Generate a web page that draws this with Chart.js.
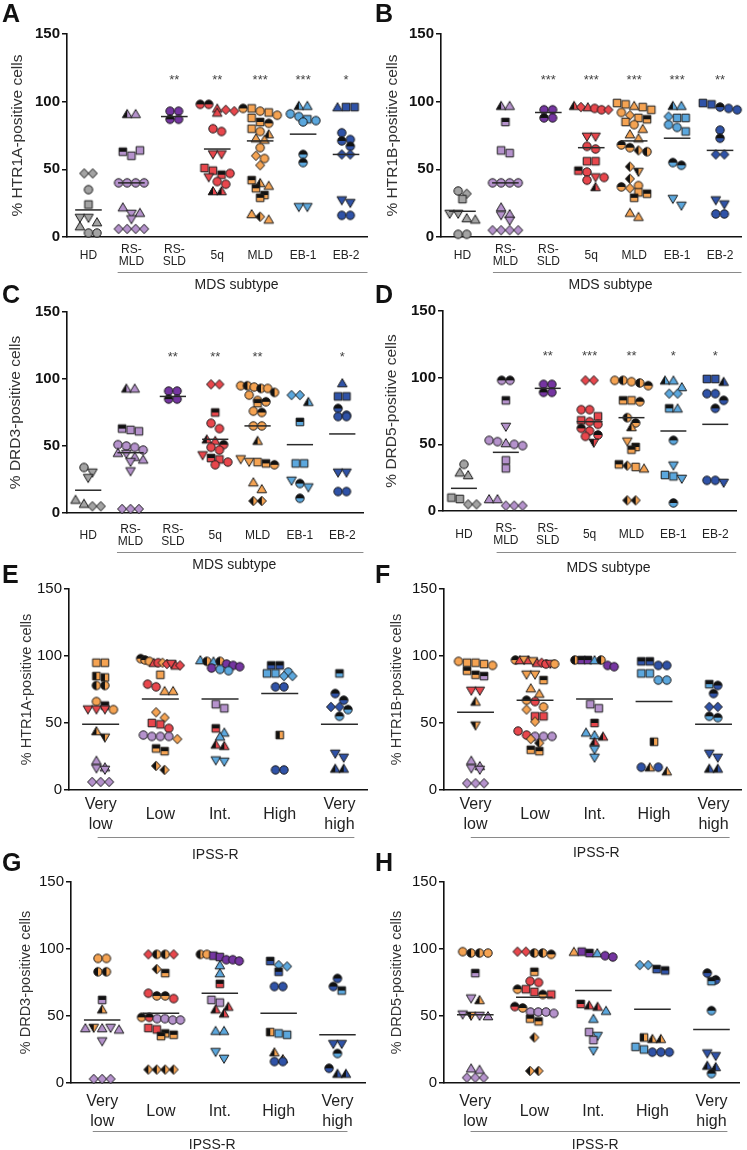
<!DOCTYPE html>
<html><head><meta charset="utf-8">
<script src="https://cdn.jsdelivr.net/npm/chart.js@4.4.1/dist/chart.umd.min.js"></script>
<style>
html,body{margin:0;padding:0;background:#fff;}
#wrap{position:relative;width:747px;height:1150px;overflow:hidden;background:#fff;}
#wrap canvas{position:absolute;}
.lbl{position:absolute;font:bold 25px "Liberation Sans",Arial,sans-serif;color:#111;line-height:1;}
</style></head><body><div id="wrap"></div>
<script>
const FF = '"Liberation Sans", Arial, Helvetica, sans-serif';

// ---------- categories / ticks ----------
const mdsCategories = [["HD"],["RS-","MLD"],["RS-","SLD"],["5q"],["MLD"],["EB-1"],["EB-2"]];
const ipssCategories = [["Very","low"],["Low"],["Int."],["High"],["Very","high"]];
const yTickValues = [0, 50, 100, 150];
const mdsGroupColour = ["g","p","P","r","o","b","B"];

// ---------- Panel A : HTR1A by MDS subtype ----------
const A_values = [
 [47,47,35,24,14,14,11,8,3,3],
 [91,91,63,60,64,40,40,40,40,22,17,18,13,6,6,6,6],
 [93,93,87,87],
 [98,98,95,94,92,93,80,78,61,61,51,49,46,47,44,41,39,34,34],
 [95,95,93,92,90,88,85,84,80,78,76,73,72,66,60,58,53,42,40,38,36,31,29,17,15,13],
 [97,97,91,89,87,86,85,61,55,22,22],
 [96,96,96,77,72,71,67,61,61,27,25,16,16]];
const A_markers = [
 "d d c s v v t t c c",
 "tL t sT s s c c c c t v t v d d d d",
 "c c cT c",
 "cT cT t d t d c c v v s s sT c v c c tL tL",
 "cT s c s c s sT cT s c tL t t c d c d sT tL t sT sT sT t dL t",
 "tL t c c s c c cT cT v v",
 "t s s c c cT cT d d v v c c"];
const A_means = [20,40,89,65,71,76,61];
const A_stars = ["","","**","**","***","***","*"];

// ---------- Panel B : HTR1B by MDS subtype ----------
const B_values = [
 [34,32,28,17,17,14,13,2,2],
 [97,97,85,64,62,40,40,40,40,22,17,16,12,5,5,5,5],
 [94,94,88,88],
 [97,96,96,95,94,94,74,74,67,65,56,56,49,48,44,44,42,37],
 [99,98,97,96,94,92,90,88,87,85,83,80,76,73,68,66,64,63,52,48,43,38,37,36,33,32,29,18,15],
 [97,97,89,88,88,83,81,78,55,53,28,23],
 [99,98,96,95,94,79,73,61,61,27,24,17,17]];
const B_markers = [
 "c d s v v t t c c",
 "tL t sT s s c c c c t t v v d d d d",
 "c c cT c",
 "tL d t c c d v v c c s s sT c v c c tL",
 "s s t s s c d s sT s c t t t cT cT dL cL dL vL dL c cT d s sT sT t t",
 "tL t d s s c c s cT cT v v",
 "s s cT c c c cT d d v v c c"];
const B_means = [19,40,92,66,71,73,64];
const B_stars = ["","","***","***","***","***","**"];

// ---------- Panel C : DRD3 by MDS subtype ----------
const C_values = [
 [34,30,26,10,7,5,5],
 [93,93,63,62,61,51,50,49,47,45,44,42,40,38,31,3,3,3],
 [91,91,85,85],
 [96,96,75,67,63,55,54,51,49,47,43,41,40,38,36],
 [95,95,94,93,93,90,88,84,83,82,76,75,65,65,54,40,38,38,37,36,23,18,9,9],
 [88,88,83,68,37,37,24,22,19,11],
 [97,87,87,78,73,72,72,30,30,16,16]];
const C_markers = [
 "c v v t t d d",
 "tL t sT s s c c c c t v t t v v d d d",
 "c c cT c",
 "d d sT c c tL t cT c c v sT s c c",
 "c cL c cL c cL c c cT sT c cT c c tL v v s sT cT t t dL dL",
 "d d tL sT s s v cT v cT",
 "t s s cT c c c v v c c"];
const C_means = [17,45,87,55,65,51,59];
const C_stars = ["","","**","**","**","","*"];

// ---------- Panel D : DRD5 by MDS subtype ----------
const D_values = [
 [35,29,27,10,9,5,5],
 [98,98,83,63,53,52,51,50,49,38,32,9,9,4,4,4],
 [95,95,89,89],
 [98,98,76,76,71,68,67,65,62,60,57,56,51],
 [98,98,97,96,94,83,83,82,70,66,63,52,48,46,35,34,33,32,8,8],
 [98,98,93,88,88,77,77,53,34,27,26,24,6],
 [99,99,97,88,88,83,77,23,23,21]];
const D_markers = [
 "c t t s s d d",
 "cT cT sT v c c t c c s s t t d d d",
 "c c cT c",
 "d d c c s s c c cT c cT c vL",
 "c cL c cL cT sT s cT cL cT tL v sT sT sT dL s t dL dL",
 "tL t t d d sT t cT v s s v cT",
 "s s tL c c cT cT c c v"];
const D_means = [17,44,92,67,70,60,65];
const D_stars = ["","","**","***","**","*","*"];

// ---------- Panel E : HTR1A by IPSS-R ----------
const E_values = [
 [95,95,85,84,78,78,66,63,60,60,60,60,44,39,22,17,16,15,6,6,6],
 [98,97,96,95,95,95,94,94,93,93,86,79,77,74,74,58,54,50,49,46,41,40,40,40,38,31,29,18,15],
 [97,96,96,96,94,93,92,91,90,89,64,61,46,43,40,34,33,22,21],
 [93,93,88,87,87,85,85,77,77,41,15,15],
 [87,72,67,62,62,60,55,27,24,16,16]];
const E_markers = [
 "os os osL osL ocL ocL oc psT rv rv rv oc otL ovL pt pt pv pv pd pd pd",
 "ocT ocT oc rt rc od rd rv rt rd os rc rc ot ot od od rs rs rc pc pc pc pc od osT osT odL odL",
 "bt ocL bt ocL Pc Pc Pc Pc bc bc ps ps rsT bt bt rtL rtL bv bv",
 "BsT BsT bc bs bs bd bd Bc Bc osL Bc Bc",
 "bsT BcT BcT Bd Bd bcT bcT Bv Bv BtL BtL"];
const E_means = [49,68,68,72,49];

// ---------- Panel F : HTR1B by IPSS-R ----------
const F_values = [
 [96,95,95,94,93,89,86,85,74,74,66,48,22,18,16,15,5,5,5],
 [97,97,97,97,96,95,95,94,94,94,86,86,82,76,72,67,66,62,60,55,55,51,44,41,40,40,40,38,35,30,29],
 [97,97,97,97,97,93,92,64,61,50,43,41,40,36,30,24],
 [96,96,93,93,87,87,82,82,36,17,17,17,14],
 [79,78,72,62,62,55,54,27,24,16,16]];
const F_markers = [
 "oc os os os oc osT osT psT rv rv otL ovL pt pt pv pv pd pd pd",
 "ocT rt ov rt ov rt rd rc rv oc ov ov osT ot ot ocT rc oc od rs rs od rc rc pc pc pc od odL osT osT",
 "ocL PsT PsT bt ocL Pc Pc ps ps rsT bt bt rtL rtL bv bv",
 "BsT BsT Bc Bc bs bs bc bc osL Bc otL Bc otL",
 "bsT BcT BcT Bd Bd bcT bcT Bv Bv BtL BtL"];
const F_means = [58,67,68,66,49];

// ---------- Panel G : DRD3 by IPSS-R ----------
const G_values = [
 [93,93,83,83,62,55,41,41,41,41,40,31,3,3,3],
 [96,96,96,96,85,82,67,65,65,63,49,49,48,48,47,47,41,40,37,36,35,10,10,10,10],
 [96,96,95,94,92,92,91,88,82,74,62,60,57,55,52,39,39,23,18],
 [91,88,87,83,72,72,38,37,36,23,18,16,16],
 [78,72,69,29,29,22,11,7,7]];
const G_markers = [
 "oc oc ocL ocL psT otL pt ovL pt pv pt pv pd pd pd",
 "rd ocL ocL rd odL osT rc ocT ocT rc ocT rcT pc pc pc pc rs rs osT osT osT odL odL odL odL",
 "ocL oc Ps Ps Pc Pc Pc bt bt rsT ps ps rtL rtL rtL bt bt bv bv",
 "BsT bd bd BsT Bc Bc osL bs bs otL otL Bc Bc",
 "BcT BcT bsT Bv Bv bcT BcT BtL BtL"];
const G_means = [47,52,67,52,36];

// ---------- Panel H : DRD5 by IPSS-R ----------
const H_values = [
 [98,97,97,97,82,63,62,51,50,50,50,11,10,4,4,4],
 [98,98,97,97,96,83,76,75,70,70,68,66,66,57,56,53,53,53,52,48,46,34,9,9],
 [98,98,97,97,95,94,59,58,57,54,48,38,35,32,24],
 [88,88,85,84,34,33,33,27,25,23,23,23],
 [82,77,76,54,22,20,13,12,7]];
const H_markers = [
 "oc ocL ocL oc psT pv otL pv ovL pv pt pt pt pd pd pd",
 "rd rd ocL ocL ocT osT rc rc ocT rs rs ocT rs rcT ocT pc pc pc pc osT osT odL odL odL",
 "ot Ps PsT bt Pc Pc rsT rtL rtL bt bt ps bv ps bv",
 "bd bd BsT BsT osL otL otL bs bs Bc Bc Bc",
 "BcT BcT bsT bcT Bv Bv BtL BtL bcT"];
const H_means = [51,64,69,55,40];

// ---------- styling ----------
const COLOURS = {g:'#a3a3a3', p:'#b592cc', P:'#7535a1', r:'#e8464c', o:'#f5a352', b:'#5ba7dd', B:'#2f52a7'};
const markerCache = {};
function marker(code){
  if (markerCache[code]) return markerCache[code];
  const col = COLOURS[code[0]], shape = code[1], half = code[2] || '';
  const S = 14, m = S/2;
  const c = document.createElement('canvas'); c.width = S; c.height = S;
  const ctx = c.getContext('2d');
  ctx.beginPath();
  if (shape === 'c') ctx.arc(m, m, 4.2, 0, Math.PI*2);
  else if (shape === 's') ctx.rect(m-3.8, m-3.8, 7.6, 7.6);
  else if (shape === 't') { ctx.moveTo(m, m-4.4); ctx.lineTo(m+4.8, m+3.8); ctx.lineTo(m-4.8, m+3.8); ctx.closePath(); }
  else if (shape === 'v') { ctx.moveTo(m, m+4.4); ctx.lineTo(m+4.8, m-3.8); ctx.lineTo(m-4.8, m-3.8); ctx.closePath(); }
  else { ctx.moveTo(m, m-4.7); ctx.lineTo(m+4.5, m); ctx.lineTo(m, m+4.7); ctx.lineTo(m-4.5, m); ctx.closePath(); }
  ctx.fillStyle = col; ctx.fill();
  if (half) {
    ctx.save(); ctx.clip(); ctx.fillStyle = '#111';
    if (half === 'T') ctx.fillRect(0, 0, S, m); else ctx.fillRect(0, 0, m, S);
    ctx.restore();
  }
  ctx.lineWidth = 1; ctx.strokeStyle = '#1a1a1a'; ctx.stroke();
  markerCache[code] = c; return c;
}

const wrap = document.getElementById('wrap');

function buildPanel(p){
  const cv = document.createElement('canvas');
  cv.width = p.w; cv.height = p.h;
  cv.style.left = p.x + 'px'; cv.style.top = p.y + 'px';
  cv.style.width = p.w + 'px'; cv.style.height = p.h + 'px';
  wrap.appendChild(cv);

  const catPx = (p.R - p.L) / (p.xmax - p.xmin);
  const yPx = (p.B - p.T) / 150;
  const thr = 7 / yPx;
  const pts = [], styles = [];
  p.values.forEach((vals, ci) => {
    const marks = p.markers[ci].split(' ').map(s => p.groupColour ? p.groupColour[ci] + s : s);
    const order = vals.map((v, i) => i).sort((a, b) => vals[b] - vals[a] || a - b);
    let k = 0;
    while (k < order.length) {
      const start = vals[order[k]]; const row = [order[k]]; k++;
      while (k < order.length && start - vals[order[k]] <= thr) { row.push(order[k]); k++; }
      row.sort((a, b) => a - b);
      const n = row.length;
      const dx = n > 1 ? Math.min(8.6, p.spread * catPx / (n - 1)) : 0;
      row.forEach((idx, j) => {
        pts.push({x: ci + (j - (n - 1) / 2) * dx / catPx, y: vals[idx]});
        styles.push(marker(marks[idx]));
      });
    }
  });

  const meanSets = p.means.map((mv, ci) => ({
    data: [{x: ci - 0.31, y: mv}, {x: ci + 0.31, y: mv}],
    showLine: true, borderColor: '#2a2a2a', borderWidth: 1.5, pointRadius: 0, order: 0, clip: false
  }));

  const annot = {
    id: 'annot' + p.id,
    afterDraw(chart){
      const ctx = chart.ctx, xs = chart.scales.x, ys = chart.scales.y;
      ctx.save();
      ctx.textAlign = 'center'; ctx.textBaseline = 'middle';
      if (p.stars) {
        ctx.fillStyle = '#444'; ctx.font = '13px ' + FF;
        p.stars.forEach((s, i) => { if (s) ctx.fillText(s, xs.getPixelForValue(i), ys.getPixelForValue(118) + 3); });
      }
      const yb = chart.chartArea.bottom;
      ctx.strokeStyle = '#8a8a8a'; ctx.lineWidth = 1;
      ctx.beginPath();
      ctx.moveTo(xs.getPixelForValue(p.gl0), yb + p.glDy + 0.5);
      ctx.lineTo(xs.getPixelForValue(p.gl1), yb + p.glDy + 0.5);
      ctx.stroke();
      ctx.fillStyle = '#222'; ctx.font = '14px ' + FF;
      ctx.fillText(p.group, xs.getPixelForValue(p.gt), yb + p.gtDy);
      ctx.restore();
    }
  };

  new Chart(cv, {
    type: 'scatter',
    data: {datasets: [...meanSets, {data: pts, pointStyle: styles, pointRadius: 4.5, pointHoverRadius: 4.5, order: 1, clip: false}]},
    plugins: [annot],
    options: {
      responsive: false, animation: false, devicePixelRatio: 1, events: [],
      layout: {padding: {left: 0, top: p.T, right: p.w - p.R, bottom: 0}},
      plugins: {legend: {display: false}, tooltip: {enabled: false}},
      scales: {
        x: {
          type: 'linear', min: p.xmin, max: p.xmax,
          afterBuildTicks: s => { s.ticks = p.cats.map((c, i) => ({value: i})); },
          afterFit: s => { s.height = p.h - p.B; },
          grid: {display: false, drawTicks: false},
          border: {display: true, color: '#111', width: 1.6},
          ticks: {autoSkip: false, maxRotation: 0, minRotation: 0, padding: p.tpad, crossAlign: 'center', color: '#222',
                  font: {family: FF, size: p.xfs, lineHeight: p.xlh},
                  callback: v => p.cats[Math.round(v)]}
        },
        y: {
          min: 0, max: 150,
          afterBuildTicks: s => { s.ticks = yTickValues.map(v => ({value: v})); },
          afterFit: s => { s.width = p.L; },
          grid: {drawOnChartArea: false, drawTicks: true, tickLength: 5, color: '#111', lineWidth: 1.5},
          border: {display: true, color: '#111', width: 1.6},
          ticks: {padding: 2, color: '#111', font: {family: FF, size: 15, weight: p.bold ? 'bold' : 'normal'}},
          title: {display: true, text: p.ytitle, color: '#333', font: {family: FF, size: p.ytfs}, padding: {top: p.ytp, bottom: 0}}
        }
      }
    }
  });

  const l = document.createElement('div');
  l.className = 'lbl'; l.textContent = p.id;
  l.style.left = (p.x + 2) + 'px'; l.style.top = (p.y + p.ly) + 'px';
  wrap.appendChild(l);
}

const mdsLayout = {cats: mdsCategories, xmin: -0.5, xmax: 6.5, bold: true, xfs: 12, xlh: 1.0, ytfs: 15.5, group: 'MDS subtype', gl1: 6.5, gt: 3.45, groupColour: mdsGroupColour, spread: 0.8};
const ipssLayout = {cats: ipssCategories, xmin: -0.53, xmax: 4.47, bold: false, xfs: 16, xlh: 1.2, ytfs: 14.5, group: 'IPSS-R', groupColour: null, spread: 0.66};

buildPanel(Object.assign({}, mdsLayout, {id:'A', values:A_values, markers:A_markers, means:A_means, stars:A_stars, ytitle:'% HTR1A-positive cells',
  x:0, y:0, w:373, h:296, L:67, R:370, T:34, B:237, ytp:8, tpad:13, gl0:0.68, glDy:35, gtDy:48, ly:1}));
buildPanel(Object.assign({}, mdsLayout, {id:'B', values:B_values, markers:B_markers, means:B_means, stars:B_stars, ytitle:'% HTR1B-positive cells',
  x:373, y:0, w:374, h:296, L:68, R:370, T:34, B:237, ytp:10, tpad:13, gl0:0.71, glDy:35, gtDy:48, ly:1}));
buildPanel(Object.assign({}, mdsLayout, {id:'C', values:C_values, markers:C_markers, means:C_means, stars:C_stars, ytitle:'% DRD3-positive cells',
  x:0, y:280, w:373, h:296, L:67, R:370, T:32, B:233, ytp:6, tpad:17, gl0:0.68, glDy:39, gtDy:52, ly:2}));
buildPanel(Object.assign({}, mdsLayout, {id:'D', values:D_values, markers:D_markers, means:D_means, stars:D_stars, ytitle:'% DRD5-positive cells',
  x:373, y:280, w:374, h:296, L:70, R:371, T:31, B:231, ytp:9, tpad:18, gl0:0.78, glDy:41, gtDy:57, ly:2}));
buildPanel(Object.assign({}, ipssLayout, {id:'E', values:E_values, markers:E_markers, means:E_means, ytitle:'% HTR1A-positive cells',
  x:0, y:570, w:373, h:290, L:69, R:371, T:19, B:220, ytp:18, tpad:15, gl0:-0.05, gl1:4.25, gt:1.92, glDy:47, gtDy:65, ly:-8}));
buildPanel(Object.assign({}, ipssLayout, {id:'F', values:F_values, markers:F_markers, means:F_means, ytitle:'% HTR1B-positive cells',
  x:373, y:570, w:374, h:290, L:71, R:372, T:19, B:220, ytp:15, tpad:15, gl0:-0.08, gl1:4.27, gt:2.03, glDy:47, gtDy:63, ly:-8}));
buildPanel(Object.assign({}, ipssLayout, {id:'G', values:G_values, markers:G_markers, means:G_means, ytitle:'% DRD3-positive cells',
  x:0, y:855, w:373, h:295, L:71, R:371, T:27, B:228, ytp:17, tpad:19, gl0:-0.16, gl1:4.17, gt:1.87, glDy:48, gtDy:62, ly:-5}));
buildPanel(Object.assign({}, ipssLayout, {id:'H', values:H_values, markers:H_markers, means:H_means, ytitle:'% DRD5-positive cells',
  x:373, y:855, w:374, h:295, L:71, R:372, T:27, B:228, ytp:15, tpad:19, gl0:-0.08, gl1:4.27, gt:2.03, glDy:48, gtDy:62, ly:-5}));
</script>
</body></html>
